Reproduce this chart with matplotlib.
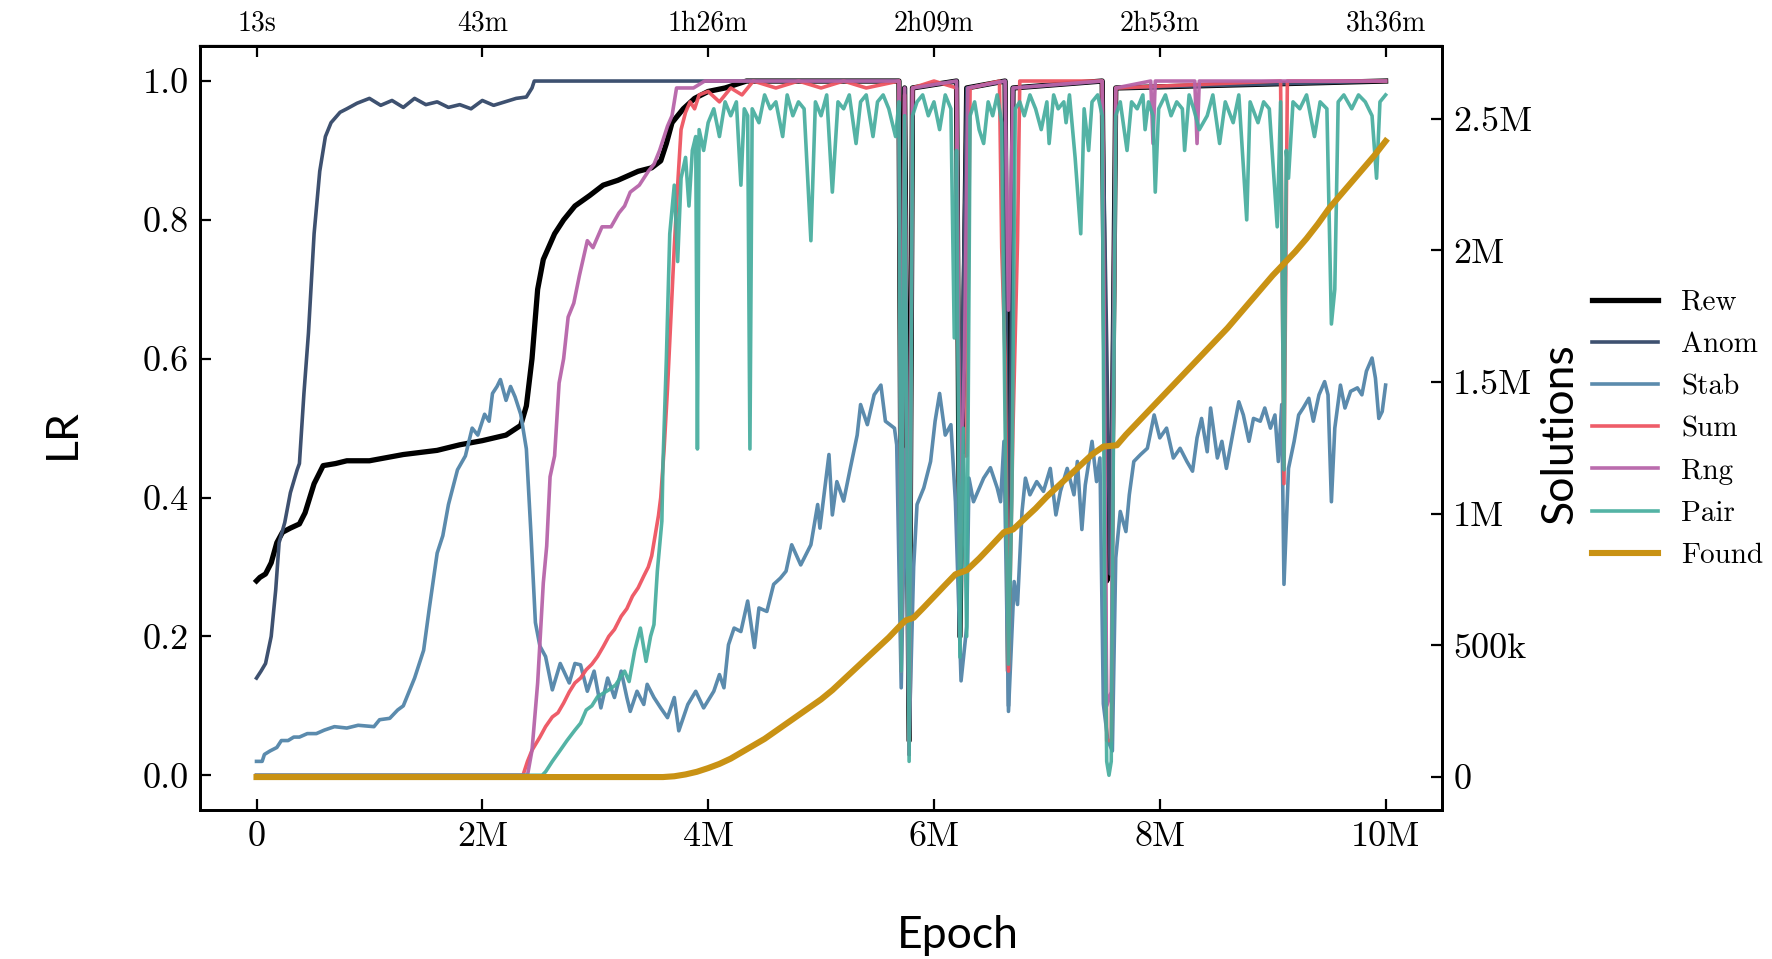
import matplotlib
matplotlib.use("Agg")
import matplotlib.pyplot as plt

# (epoch in millions, value)
rew_points = [(0, 0.28), (0.03, 0.285), (0.08, 0.29), (0.13, 0.306), (0.18, 0.335), (0.23, 0.35),
              (0.3, 0.356), (0.38, 0.362), (0.43, 0.378), (0.51, 0.42), (0.59, 0.446), (0.7, 0.449),
              (0.8, 0.453), (1.0, 0.453), (1.3, 0.462), (1.6, 0.468), (1.8, 0.476), (2.0, 0.482),
              (2.21, 0.49), (2.34, 0.504), (2.39, 0.532), (2.44, 0.6), (2.49, 0.7), (2.54, 0.743),
              (2.64, 0.78), (2.72, 0.80), (2.82, 0.82), (2.95, 0.835), (3.07, 0.85), (3.2, 0.857),
              (3.38, 0.87), (3.5, 0.875), (3.58, 0.885), (3.63, 0.91), (3.68, 0.94), (3.73, 0.95),
              (3.78, 0.96), (3.88, 0.975), (4.0, 0.985), (4.15, 0.99), (4.34, 1.0), (5.69, 1.0),
              (5.71, 0.3), (5.74, 0.99), (5.78, 0.05), (5.81, 0.99), (6.2, 1.0), (6.23, 0.2),
              (6.29, 0.99), (6.63, 1.0), (6.66, 0.15), (6.7, 0.99), (7.49, 1.0), (7.53, 0.28),
              (7.57, 0.3), (7.61, 0.99), (10.0, 1.0)]

anom_points = [(0, 0.14), (0.04, 0.15), (0.08, 0.161), (0.13, 0.2), (0.17, 0.267), (0.2, 0.335),
               (0.25, 0.364), (0.3, 0.407), (0.36, 0.44), (0.38, 0.449), (0.42, 0.55), (0.46, 0.637),
               (0.51, 0.78), (0.56, 0.87), (0.61, 0.92), (0.66, 0.94), (0.74, 0.955), (0.8, 0.96),
               (0.89, 0.968), (1.0, 0.975), (1.1, 0.965), (1.2, 0.972), (1.3, 0.962), (1.4, 0.975),
               (1.5, 0.966), (1.6, 0.97), (1.7, 0.962), (1.8, 0.966), (1.9, 0.96), (2.0, 0.972),
               (2.1, 0.965), (2.2, 0.97), (2.3, 0.975), (2.39, 0.977), (2.44, 0.99), (2.46, 1.0),
               (5.69, 1.0), (5.71, 0.35), (5.74, 0.99), (5.78, 0.03), (5.81, 0.99), (6.2, 1.0),
               (6.23, 0.4), (6.29, 0.99), (6.63, 1.0), (6.66, 0.1), (6.7, 0.99), (7.49, 1.0),
               (7.53, 0.62), (7.56, 0.29), (7.61, 0.99), (10.0, 1.0)]

stab_points = [(0, 0.02), (0.05, 0.02), (0.07, 0.03), (0.12, 0.035), (0.18, 0.04), (0.22, 0.05),
               (0.28, 0.05), (0.33, 0.055), (0.38, 0.055), (0.45, 0.06), (0.53, 0.06), (0.6, 0.065),
               (0.69, 0.07), (0.8, 0.068), (0.9, 0.072), (1.04, 0.07), (1.09, 0.08), (1.18, 0.082),
               (1.25, 0.094), (1.3, 0.1), (1.35, 0.12), (1.4, 0.14), (1.48, 0.18), (1.53, 0.24),
               (1.6, 0.32), (1.65, 0.345), (1.7, 0.39), (1.78, 0.44), (1.85, 0.46), (1.91, 0.5),
               (1.96, 0.49), (2.02, 0.52), (2.06, 0.51), (2.09, 0.55), (2.13, 0.56), (2.16, 0.57),
               (2.21, 0.54), (2.25, 0.56), (2.29, 0.545), (2.34, 0.52), (2.39, 0.47), (2.43, 0.35),
               (2.47, 0.22), (2.51, 0.186), (2.56, 0.171), (2.62, 0.123), (2.69, 0.161), (2.77, 0.133),
               (2.82, 0.161), (2.87, 0.159), (2.93, 0.121), (2.99, 0.15), (3.05, 0.097), (3.11, 0.14),
               (3.17, 0.112), (3.23, 0.15), (3.28, 0.112), (3.31, 0.092), (3.37, 0.121), (3.43, 0.102),
               (3.46, 0.131), (3.52, 0.112), (3.58, 0.097), (3.64, 0.083), (3.7, 0.112), (3.74, 0.064),
               (3.82, 0.102), (3.89, 0.121), (3.96, 0.097), (4.05, 0.121), (4.1, 0.145), (4.14, 0.126),
               (4.18, 0.188), (4.23, 0.212), (4.29, 0.207), (4.35, 0.251), (4.41, 0.184), (4.45, 0.241),
               (4.52, 0.236), (4.58, 0.275), (4.64, 0.284), (4.69, 0.294), (4.74, 0.332), (4.82, 0.303),
               (4.91, 0.332), (4.97, 0.39), (4.99, 0.356), (5.07, 0.462), (5.1, 0.375), (5.14, 0.423),
               (5.2, 0.395), (5.26, 0.443), (5.32, 0.49), (5.35, 0.534), (5.41, 0.505), (5.47, 0.548),
               (5.53, 0.562), (5.57, 0.51), (5.65, 0.5), (5.67, 0.476), (5.71, 0.126), (5.75, 0.47),
               (5.78, 0.05), (5.82, 0.3), (5.85, 0.39), (5.91, 0.414), (5.97, 0.452), (6.01, 0.51),
               (6.05, 0.55), (6.1, 0.49), (6.15, 0.505), (6.19, 0.394), (6.24, 0.136), (6.29, 0.214),
               (6.31, 0.428), (6.35, 0.394), (6.44, 0.428), (6.5, 0.443), (6.56, 0.414), (6.59, 0.394),
               (6.62, 0.481), (6.66, 0.092), (6.71, 0.279), (6.74, 0.246), (6.78, 0.38), (6.81, 0.428),
               (6.85, 0.404), (6.91, 0.423), (6.97, 0.409), (7.03, 0.442), (7.08, 0.375), (7.12, 0.409),
               (7.18, 0.442), (7.24, 0.404), (7.27, 0.452), (7.31, 0.354), (7.34, 0.418), (7.4, 0.481),
               (7.44, 0.423), (7.47, 0.457), (7.5, 0.103), (7.54, 0.05), (7.58, 0.035), (7.61, 0.313),
               (7.65, 0.38), (7.7, 0.351), (7.73, 0.404), (7.77, 0.452), (7.83, 0.462), (7.89, 0.471),
               (7.95, 0.519), (8.0, 0.486), (8.06, 0.5), (8.12, 0.457), (8.18, 0.471), (8.24, 0.452),
               (8.29, 0.438), (8.33, 0.486), (8.37, 0.514), (8.42, 0.466), (8.45, 0.529), (8.51, 0.457),
               (8.55, 0.481), (8.59, 0.442), (8.65, 0.495), (8.7, 0.538), (8.74, 0.519), (8.79, 0.481),
               (8.83, 0.514), (8.89, 0.51), (8.93, 0.529), (8.98, 0.5), (9.02, 0.519), (9.05, 0.452),
               (9.08, 0.534), (9.1, 0.275), (9.14, 0.442), (9.19, 0.481), (9.23, 0.519), (9.27, 0.529),
               (9.32, 0.543), (9.36, 0.51), (9.41, 0.548), (9.46, 0.567), (9.49, 0.548), (9.52, 0.394),
               (9.55, 0.5), (9.6, 0.562), (9.64, 0.529), (9.69, 0.553), (9.75, 0.558), (9.79, 0.548),
               (9.83, 0.582), (9.88, 0.601), (9.91, 0.572), (9.94, 0.514), (9.97, 0.524), (10.0, 0.562)]

sum_points = [(0, 0.0), (2.36, 0.0), (2.4, 0.02), (2.44, 0.036), (2.51, 0.055), (2.56, 0.07),
              (2.62, 0.084), (2.67, 0.09), (2.72, 0.104), (2.77, 0.12), (2.82, 0.133), (2.87, 0.14),
              (2.92, 0.152), (2.97, 0.16), (3.02, 0.171), (3.07, 0.185), (3.12, 0.2), (3.17, 0.21),
              (3.23, 0.229), (3.28, 0.24), (3.33, 0.258), (3.38, 0.27), (3.43, 0.287), (3.47, 0.3),
              (3.5, 0.316), (3.56, 0.374), (3.58, 0.4), (3.61, 0.47), (3.64, 0.557), (3.7, 0.761),
              (3.73, 0.85), (3.76, 0.93), (3.8, 0.955), (3.84, 0.97), (3.88, 0.96), (3.92, 0.98),
              (4.0, 0.985), (4.1, 0.97), (4.2, 0.99), (4.3, 0.98), (4.4, 1.0), (4.6, 0.99), (4.8, 1.0),
              (5.0, 0.99), (5.2, 1.0), (5.4, 0.99), (5.69, 1.0), (5.71, 0.2), (5.74, 0.98), (5.78, 0.03),
              (5.81, 0.99), (6.0, 1.0), (6.2, 0.99), (6.23, 0.3), (6.26, 0.46), (6.29, 0.46),
              (6.32, 0.99), (6.58, 1.0), (6.6, 0.76), (6.63, 0.6), (6.66, 0.15), (6.7, 0.5),
              (6.74, 0.77), (6.76, 1.0), (7.49, 1.0), (7.53, 0.05), (7.57, 0.05), (7.61, 0.99),
              (9.07, 1.0), (9.1, 0.42), (9.13, 1.0), (10.0, 1.0)]

rng_points = [(0, 0.0), (2.4, 0.0), (2.44, 0.036), (2.49, 0.133), (2.54, 0.277), (2.57, 0.33),
              (2.6, 0.43), (2.64, 0.46), (2.68, 0.565), (2.72, 0.6), (2.76, 0.66), (2.81, 0.68),
              (2.86, 0.72), (2.93, 0.77), (2.98, 0.76), (3.06, 0.79), (3.14, 0.79), (3.21, 0.81),
              (3.26, 0.82), (3.31, 0.84), (3.39, 0.85), (3.47, 0.87), (3.52, 0.88), (3.57, 0.9),
              (3.64, 0.935), (3.68, 0.95), (3.72, 0.99), (3.8, 0.99), (3.87, 0.99), (3.97, 1.0),
              (5.69, 1.0), (5.71, 0.15), (5.74, 0.99), (5.78, 0.03), (5.81, 0.99), (6.2, 1.0),
              (6.23, 0.35), (6.27, 0.6), (6.3, 0.99), (6.63, 1.0), (6.66, 0.67), (6.7, 0.99),
              (7.49, 1.0), (7.53, 0.1), (7.57, 0.12), (7.61, 0.99), (7.92, 1.0), (7.94, 0.91),
              (7.96, 1.0), (8.31, 1.0), (8.33, 0.91), (8.35, 1.0), (10.0, 1.0)]

pair_points = [(0, 0.0), (2.53, 0.0), (2.56, 0.005), (2.62, 0.02), (2.69, 0.036), (2.75, 0.05),
               (2.82, 0.065), (2.87, 0.075), (2.92, 0.094), (2.97, 0.1), (3.02, 0.113), (3.07, 0.118),
               (3.12, 0.123), (3.18, 0.13), (3.26, 0.15), (3.3, 0.135), (3.35, 0.18), (3.4, 0.212),
               (3.45, 0.164), (3.49, 0.2), (3.52, 0.217), (3.55, 0.294), (3.59, 0.366), (3.6, 0.45),
               (3.63, 0.6), (3.66, 0.78), (3.7, 0.85), (3.73, 0.74), (3.76, 0.86), (3.8, 0.89),
               (3.83, 0.82), (3.86, 0.9), (3.89, 0.92), (3.905, 0.47), (3.92, 0.93), (3.96, 0.9),
               (4.0, 0.94), (4.05, 0.96), (4.1, 0.92), (4.15, 0.97), (4.2, 0.95), (4.25, 0.97),
               (4.29, 0.85), (4.32, 0.96), (4.35, 0.95), (4.37, 0.47), (4.39, 0.96), (4.45, 0.94),
               (4.5, 0.98), (4.55, 0.96), (4.6, 0.97), (4.66, 0.92), (4.7, 0.98), (4.75, 0.95),
               (4.8, 0.97), (4.85, 0.96), (4.91, 0.77), (4.95, 0.97), (5.0, 0.95), (5.05, 0.98),
               (5.1, 0.84), (5.15, 0.97), (5.2, 0.96), (5.25, 0.98), (5.31, 0.91), (5.35, 0.97),
               (5.4, 0.98), (5.46, 0.92), (5.5, 0.97), (5.55, 0.98), (5.6, 0.96), (5.66, 0.92),
               (5.69, 0.97), (5.71, 0.15), (5.74, 0.95), (5.78, 0.02), (5.81, 0.95), (5.85, 0.97),
               (5.9, 0.98), (5.95, 0.95), (6.0, 0.97), (6.05, 0.93), (6.1, 0.98), (6.15, 0.96),
               (6.18, 0.63), (6.2, 0.9), (6.23, 0.17), (6.26, 0.5), (6.29, 0.2), (6.32, 0.95),
               (6.36, 0.97), (6.4, 0.93), (6.44, 0.91), (6.48, 0.97), (6.52, 0.95), (6.56, 0.98),
               (6.6, 0.94), (6.63, 0.5), (6.66, 0.16), (6.69, 0.4), (6.72, 0.96), (6.76, 0.97),
               (6.8, 0.95), (6.85, 0.98), (6.9, 0.96), (6.95, 0.93), (7.0, 0.97), (7.02, 0.91),
               (7.06, 0.98), (7.1, 0.96), (7.15, 0.97), (7.17, 0.94), (7.2, 0.98), (7.25, 0.89),
               (7.3, 0.78), (7.33, 0.96), (7.37, 0.9), (7.4, 0.97), (7.45, 0.98), (7.49, 0.95),
               (7.51, 0.3), (7.53, 0.02), (7.55, 0.0), (7.57, 0.02), (7.59, 0.5), (7.61, 0.95),
               (7.65, 0.97), (7.71, 0.9), (7.75, 0.97), (7.8, 0.96), (7.85, 0.98), (7.87, 0.93),
               (7.9, 0.97), (7.94, 0.95), (7.96, 0.84), (7.99, 0.96), (8.05, 0.98), (8.1, 0.95),
               (8.15, 0.97), (8.2, 0.96), (8.22, 0.9), (8.26, 0.98), (8.3, 0.96), (8.35, 0.93),
               (8.42, 0.95), (8.47, 0.98), (8.53, 0.91), (8.58, 0.97), (8.65, 0.94), (8.7, 0.98),
               (8.77, 0.8), (8.8, 0.97), (8.87, 0.94), (8.92, 0.97), (8.97, 0.96), (9.04, 0.79),
               (9.07, 0.97), (9.1, 0.44), (9.12, 0.9), (9.14, 0.86), (9.18, 0.97), (9.24, 0.96),
               (9.3, 0.98), (9.37, 0.92), (9.42, 0.97), (9.48, 0.96), (9.52, 0.65), (9.55, 0.7),
               (9.58, 0.97), (9.63, 0.98), (9.7, 0.96), (9.76, 0.98), (9.82, 0.97), (9.88, 0.95),
               (9.92, 0.86), (9.95, 0.97), (10.0, 0.98)]

# solutions found, in millions
found_points = [(0, 0), (3.6, 0), (3.7, 0.003), (3.8, 0.01), (3.9, 0.02), (4.0, 0.034), (4.1, 0.05),
                (4.2, 0.07), (4.3, 0.095), (4.4, 0.12), (4.5, 0.145), (4.6, 0.175), (4.7, 0.205),
                (4.8, 0.235), (4.9, 0.265), (5.0, 0.295), (5.1, 0.33), (5.2, 0.37), (5.3, 0.41),
                (5.4, 0.45), (5.5, 0.49), (5.6, 0.53), (5.7, 0.575), (5.75, 0.595), (5.82, 0.605),
                (5.9, 0.64), (6.0, 0.685), (6.1, 0.73), (6.19, 0.77), (6.29, 0.785), (6.4, 0.83),
                (6.5, 0.875), (6.62, 0.93), (6.7, 0.94), (6.8, 0.98), (6.9, 1.02), (7.0, 1.065),
                (7.1, 1.105), (7.2, 1.145), (7.3, 1.185), (7.4, 1.225), (7.5, 1.255), (7.62, 1.26),
                (7.7, 1.3), (7.8, 1.345), (7.9, 1.39), (8.0, 1.435), (8.1, 1.48), (8.2, 1.525),
                (8.3, 1.57), (8.4, 1.615), (8.5, 1.66), (8.6, 1.705), (8.7, 1.755), (8.8, 1.805),
                (8.9, 1.855), (9.0, 1.905), (9.1, 1.95), (9.2, 1.995), (9.3, 2.045), (9.4, 2.1),
                (9.5, 2.16), (9.6, 2.21), (9.7, 2.26), (9.8, 2.31), (9.9, 2.36), (10.0, 2.415)]

epoch_ticks = [0, 2e6, 4e6, 6e6, 8e6, 10e6]
epoch_labels = ["0", "2M", "4M", "6M", "8M", "10M"]
time_labels = ["13s", "43m", "1h26m", "2h09m", "2h53m", "3h36m"]
lr_ticks = [0.0, 0.2, 0.4, 0.6, 0.8, 1.0]
lr_labels = ["0.0", "0.2", "0.4", "0.6", "0.8", "1.0"]
sol_ticks = [0, 0.5e6, 1e6, 1.5e6, 2e6, 2.5e6]
sol_labels = ["0", "500k", "1M", "1.5M", "2M", "2.5M"]


def unzip(points, scale_y=1.0):
    xs, ys = zip(*points)
    return [x * 1e6 for x in xs], [y * scale_y for y in ys]


serif = "cmr10"
sans = "Lato"

fig = plt.figure(figsize=(8.86, 4.795), dpi=200)
ax = fig.add_axes([0.1129, 0.1554, 0.7009, 0.7963])

series = [
    ("Rew", rew_points, "#000000", 1.9, 1.0),
    ("Anom", anom_points, "#3e5170", 1.3, 1.0),
    ("Stab", stab_points, "#5b8bad", 1.3, 1.0),
    ("Sum", sum_points, "#ee5461", 1.3, 0.95),
    ("Rng", rng_points, "#b764a9", 1.3, 0.95),
    ("Pair", pair_points, "#45ad9e", 1.3, 0.92),
]
handles = []
for name, pts, color, lw, alpha in series:
    xs, ys = unzip(pts)
    (line,) = ax.plot(xs, ys, color=color, lw=lw, alpha=alpha, label=name)
    handles.append(line)

ax2 = ax.twinx()
fx, fy = unzip(found_points, 1e6)
(fline,) = ax2.plot(fx, fy, color="#c99214", lw=2.2, label="Found")
handles.append(fline)

ax.set_xlim(-0.5e6, 10.5e6)
ax.set_ylim(-0.05, 1.05)
ax2.set_ylim(-0.125e6, 2.775e6)

ax.set_xticks(epoch_ticks, labels=epoch_labels)
ax.set_yticks(lr_ticks, labels=lr_labels)
ax2.set_yticks(sol_ticks, labels=sol_labels)

for a in (ax, ax2):
    a.tick_params(direction="in", length=4, width=0.8, labelsize=13,
                  labelfontfamily=serif, pad=4)
ax.tick_params(top=False, right=False)

top = ax.secondary_xaxis("top")
top.set_xticks(epoch_ticks, labels=time_labels)
top.tick_params(direction="in", length=4, width=0.8, labelsize=10,
                labelfontfamily=serif, pad=3.5)

for a in (ax, ax2):
    for sp in a.spines.values():
        sp.set_linewidth(1.0)

ax.set_xlabel("Epoch", fontfamily=sans, fontsize=16)
ax.xaxis.set_label_coords(0.61, -0.165)
ax.xaxis.label.set_va("center")
ax.set_ylabel("LR", fontfamily=sans, fontsize=16)
ax.yaxis.set_label_coords(-0.111, 0.493)
ax.yaxis.label.set_va("center")
ax2.set_ylabel("Solutions", fontfamily=sans, fontsize=16)
ax2.yaxis.set_label_coords(1.0946, 0.493)
ax2.yaxis.label.set_va("center")

ax2.legend(handles, [h.get_label() for h in handles], loc="center left",
           bbox_to_anchor=(1.1208, 0.4985), frameon=False,
           prop={"family": serif, "size": 10.5}, handlelength=2.25,
           handletextpad=0.8, borderpad=0, borderaxespad=0, labelspacing=0.54)

fig.savefig("out.png", dpi=200)
